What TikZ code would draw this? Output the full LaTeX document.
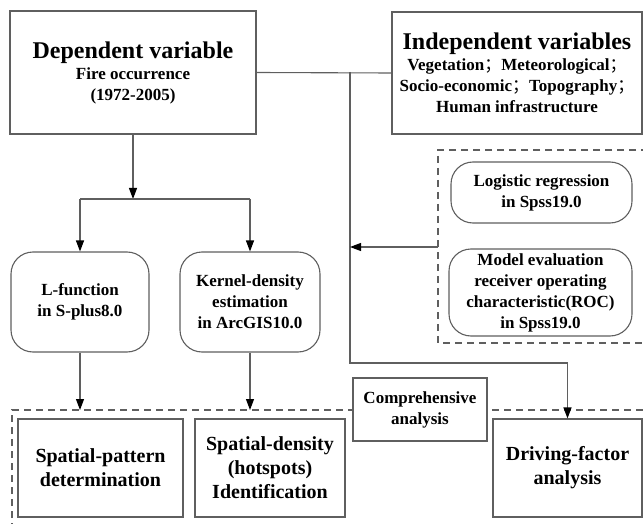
\documentclass[tikz,border=0pt]{standalone}
\usepackage{fontspec}
\setmainfont{Liberation Serif}
\newfontfamily\cjk{Noto Sans CJK SC}
\usetikzlibrary{arrows.meta}
\definecolor{ln}{RGB}{95,95,95}
\newcommand{\fsep}{{\mdseries\cjk ；}}
\tikzset{
  box/.style={draw=ln, line width=1.1pt, fill=white, align=center, inner sep=0pt, font=\bfseries\fontsize{17}{21}\selectfont},
  rbox/.style={box, rounded corners=22pt},
  conn/.style={draw=ln, line width=1.1pt},
  arr/.style={conn, -{Triangle[length=11pt,width=8pt,color=black]}},
  dbox/.style={draw=ln, line width=1.3pt, dash pattern=on 7pt off 5pt},
}
\begin{document}
\begin{tikzpicture}[x=1pt,y=-1pt]
\useasboundingbox (0,0) rectangle (643,524);
% dashed groups
\draw[dbox] (12,530) -- (12,410) -- (660,410);
\draw[dbox] (660,150) -- (438,150) -- (438,343) -- (660,343);
% nodes
\node[box, minimum width=246pt, minimum height=123pt] (dep) at (133,72.5)
  {{\fontsize{24}{26}\selectfont Dependent variable}\\Fire occurrence\\(1972-2005)};
\node[box, minimum width=250pt, minimum height=122pt] (ind) at (517,73)
  {{\fontsize{24}{27}\selectfont Independent variables}\\Vegetation\fsep Meteorological\fsep\\Socio-economic\fsep Topography\fsep\\Human infrastructure};
\node[rbox, minimum width=138pt, minimum height=100pt] (lfun) at (80,302) {L-function\\in S-plus8.0};
\node[rbox, minimum width=140pt, minimum height=100pt] (kern) at (250,302) {Kernel-density\\estimation\\in ArcGIS10.0};
\node[rbox, minimum width=181pt, minimum height=61pt] (logit) at (541.5,192.5) {Logistic regression\\in Spss19.0};
\node[rbox, minimum width=183pt, minimum height=87pt] (roc) at (540.5,292.5) {Model evaluation\\receiver operating\\characteristic(ROC)\\in Spss19.0};
\node[box, minimum width=165pt, minimum height=98pt, font=\bfseries\fontsize{20}{24}\selectfont] (pat) at (100.5,468) {Spatial-pattern\\determination};
\node[box, minimum width=150pt, minimum height=98pt, font=\bfseries\fontsize{20}{24}\selectfont] (dens) at (270,468) {Spatial-density\\(hotspots)\\Identification};
\node[box, minimum width=149pt, minimum height=98pt, font=\bfseries\fontsize{20}{24}\selectfont] (drv) at (567.5,468) {Driving-factor\\analysis};
% coordinates
\coordinate (j1) at (350,72);
\coordinate (j2) at (350,363);
\coordinate (j3) at (567.5,363);
\coordinate (j4) at (350,247);
\coordinate (db) at (438,247);
\coordinate (sp) at (133,199);
\coordinate (sl) at (80,199);
\coordinate (sk) at (250,199);
\coordinate (tl) at (80,410);
\coordinate (tk) at (250,410);
% connectors
\draw[conn] (dep.east) -- (ind.west);
\draw[conn] (j1) -- (j2) -- (j3);
\draw[arr] (j3) -- (drv.north);
\draw[arr] (db) -- (j4);
\draw[arr] (dep.south) -- (sp);
\draw[conn] (sl) -- (sk);
\draw[arr] (sl) -- (lfun.north);
\draw[arr] (sk) -- (kern.north);
\draw[arr] (lfun.south) -- (tl);
\draw[arr] (kern.south) -- (tk);
\node[box, minimum width=134pt, minimum height=63pt] (comp) at (420,409.5) {Comprehensive\\analysis};
\end{tikzpicture}
\end{document}
